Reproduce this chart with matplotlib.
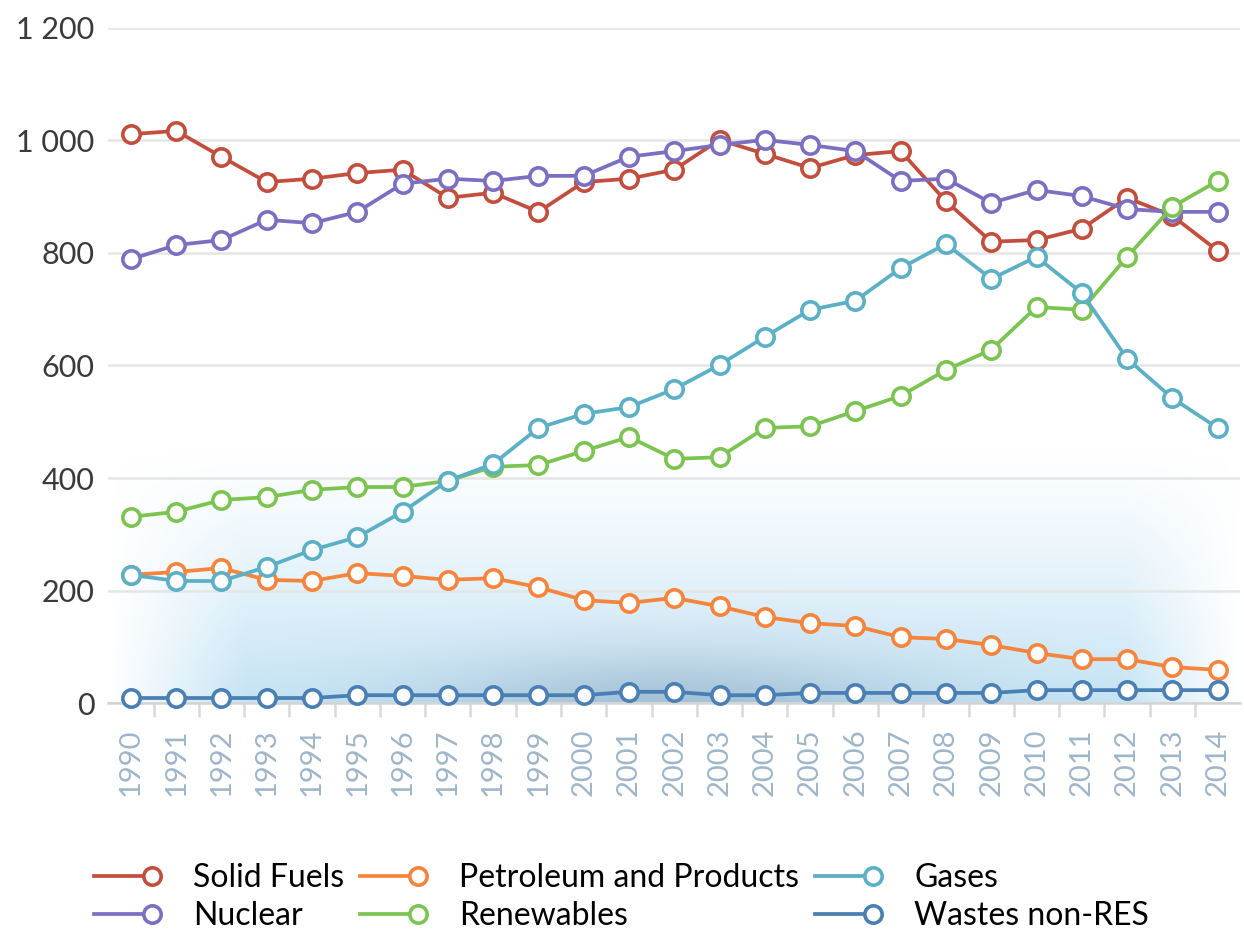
import numpy as np
import matplotlib
matplotlib.use("Agg")
import matplotlib.pyplot as plt
from matplotlib.lines import Line2D
from matplotlib.legend_handler import HandlerLine2D

years = list(range(1990, 2015))

solid_fuels = [1011, 1017, 971, 926, 932, 942, 948, 898, 907, 873, 926, 932, 948,
               1001, 976, 951, 974, 981, 892, 820, 823, 843, 898, 866, 804]
nuclear = [789, 814, 823, 859, 853, 873, 923, 932, 928, 937, 937, 971, 981,
           992, 1001, 992, 981, 928, 932, 889, 912, 901, 878, 873, 873]
petroleum = [228, 233, 240, 219, 217, 231, 226, 219, 222, 206, 183, 178, 187,
             172, 153, 142, 137, 117, 114, 103, 89, 78, 78, 64, 59]
renewables = [331, 340, 361, 366, 379, 384, 384, 395, 420, 423, 448, 473, 434,
              437, 489, 492, 519, 546, 592, 628, 704, 699, 793, 882, 928]
gases = [228, 217, 217, 242, 272, 295, 340, 395, 425, 489, 514, 526, 558,
         601, 651, 699, 715, 773, 816, 754, 793, 729, 612, 542, 489]
wastes = [9, 9, 9, 9, 9, 14, 14, 14, 14, 14, 14, 20, 20,
          14, 14, 18, 18, 18, 18, 18, 23, 23, 23, 23, 23]

series = [
    ("Solid Fuels", solid_fuels, "#c24e3e"),
    ("Nuclear", nuclear, "#7b6fc2"),
    ("Petroleum and Products", petroleum, "#f5843c"),
    ("Renewables", renewables, "#7cc452"),
    ("Gases", gases, "#5cb0c6"),
    ("Wastes non-RES", wastes, "#4a7fb3"),
]

LW = 2.7
MS = 12.5
MEW = 2.6

plt.rcParams["font.family"] = ["Lato", "DejaVu Sans"]

fig = plt.figure(figsize=(12.44, 9.30), dpi=100)
ax = fig.add_axes([0.087, 0.244, 0.91, 0.726])

x0, x1 = 1989.5, 2014.5
ax.set_xlim(x0, x1)
ax.set_ylim(0, 1200)

# soft blue glow behind the lower part of the chart
gx = np.linspace(0, 1, 300)
gy = np.linspace(0, 1, 120)
GX, GY = np.meshgrid(gx, gy)
vert = np.clip(1 - GY, 0, 1) ** 1.1
horiz = np.clip(GX / 0.12, 0, 1) * np.clip((1 - GX) / 0.10, 0, 1)
alpha = vert * horiz * 0.85
dark = np.exp(-((GX - 0.5) ** 2) / 0.05 - (GY ** 2) / 0.06)
light = np.array([0.74, 0.88, 0.96])
deep = np.array([0.58, 0.72, 0.82])
rgb = light[None, None, :] * (1 - dark[..., None]) + deep[None, None, :] * dark[..., None]
img = np.dstack([rgb, alpha])
ax.imshow(img, extent=[x0, x1, 0, 450], origin="lower", aspect="auto", zorder=0,
          interpolation="bilinear")

for name, vals, col in series:
    ax.plot(years, vals, color=col, lw=LW, marker="o", markersize=MS,
            markerfacecolor="white", markeredgecolor=col, markeredgewidth=MEW,
            label=name, zorder=3, clip_on=False)

ax.set_yticks([0, 200, 400, 600, 800, 1000, 1200])
ax.set_yticklabels(["0", "200", "400", "600", "800", "1 000", "1 200"])
ax.set_xticks(years)
ax.set_xticklabels([str(y) for y in years], rotation=90)
ax.set_xticks(np.arange(1990.5, 2014, 1), minor=True)

ax.grid(axis="y", color="#e4e6e6", lw=1.8, zorder=1)
for s in ["top", "right", "left"]:
    ax.spines[s].set_visible(False)
ax.spines["bottom"].set_color("#d2d4d4")
ax.spines["bottom"].set_linewidth(1.8)

ax.tick_params(axis="y", length=0, labelsize=22, labelcolor="#3a3a3a", pad=10)
ax.tick_params(axis="x", which="major", length=0, labelsize=21,
               labelcolor="#9fb6ca", pad=18)
ax.tick_params(axis="x", which="minor", length=10, width=1.8, color="#d8dada")


class RightMarker(HandlerLine2D):
    def create_artists(self, legend, orig_handle, xdescent, ydescent,
                       width, height, fontsize, trans):
        y = height / 2 - ydescent
        col = orig_handle.get_color()
        line = Line2D([-xdescent, width - xdescent], [y, y], color=col, lw=LW)
        mark = Line2D([width - xdescent], [y], marker="o", markersize=MS,
                      markerfacecolor="white", markeredgecolor=col,
                      markeredgewidth=MEW, linestyle="none")
        line.set_transform(trans)
        mark.set_transform(trans)
        return [line, mark]


handles, labels = ax.get_legend_handles_labels()
leg = fig.legend(handles, labels, loc="upper left", bbox_to_anchor=(0.0756, 0.072),
                 ncol=3, frameon=False, fontsize=23, handlelength=1.8,
                 handletextpad=1.3, columnspacing=0.5, labelspacing=0.26,
                 borderpad=0, borderaxespad=0,
                 handler_map={Line2D: RightMarker()})

fig.savefig("out.png", dpi=100, facecolor="white")
